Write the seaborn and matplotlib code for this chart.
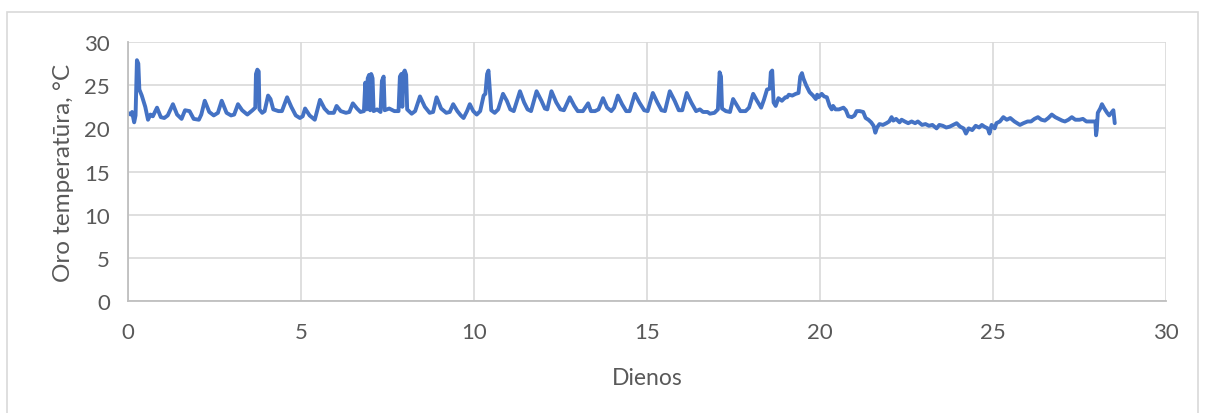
import pandas as pd
import matplotlib.pyplot as plt
import seaborn as sns
from matplotlib.patches import Rectangle

# values (day, temperature)
days = [
    0.00, 0.08, 0.12, 0.18, 0.22, 0.26, 0.30, 0.33, 0.40, 0.50, 0.58, 0.65, 0.72, 0.84, 0.95,
    1.05, 1.15, 1.30, 1.42, 1.55, 1.65, 1.78, 1.90, 2.05, 2.12, 2.22, 2.35, 2.48, 2.60, 2.71,
    2.85, 2.98, 3.07, 3.18, 3.30, 3.45, 3.60, 3.68, 3.70, 3.74, 3.78, 3.80, 3.88, 3.95, 4.05,
    4.12, 4.20, 4.35, 4.45, 4.60, 4.72, 4.85,
    4.97, 5.05, 5.12, 5.25, 5.40, 5.55, 5.68, 5.80, 5.95, 6.03, 6.15, 6.30, 6.40, 6.50, 6.62,
    6.72, 6.82, 6.86, 6.90, 6.93, 6.97, 7.00, 7.03, 7.07, 7.10, 7.20, 7.30, 7.34, 7.39, 7.42,
    7.55, 7.70, 7.82, 7.86, 7.90, 7.93, 7.96, 8.00, 8.04, 8.07, 8.20, 8.30, 8.44, 8.58, 8.72,
    8.82, 8.92, 9.05, 9.20, 9.30, 9.40, 9.52,
    9.62, 9.70, 9.80, 9.88, 9.98, 10.08, 10.18, 10.28, 10.33, 10.38, 10.42, 10.45, 10.50, 10.60,
    10.70, 10.84, 10.95, 11.05, 11.15, 11.33, 11.45, 11.55, 11.65, 11.81, 11.95, 12.05, 12.12,
    12.24, 12.38, 12.50, 12.60, 12.77, 12.90, 13.00, 13.15, 13.30, 13.38, 13.50, 13.60, 13.73,
    13.85, 13.97, 14.05, 14.16, 14.28, 14.40,
    14.50, 14.65, 14.78, 14.92, 15.02, 15.17, 15.30, 15.42, 15.52, 15.66, 15.80, 15.92, 16.02,
    16.15, 16.28, 16.42, 16.53, 16.62, 16.75, 16.82, 16.95, 17.05, 17.10, 17.14, 17.17, 17.28,
    17.40, 17.49, 17.58, 17.70, 17.85, 17.95, 18.07, 18.18, 18.30, 18.38, 18.47, 18.55, 18.58,
    18.62, 18.66, 18.72, 18.80, 18.90, 19.00,
    19.05, 19.10, 19.20, 19.30, 19.38, 19.43, 19.48, 19.52, 19.60, 19.70, 19.80, 19.88, 19.92,
    19.96, 20.05, 20.12, 20.20, 20.28, 20.34, 20.38, 20.45, 20.55, 20.68, 20.75, 20.82, 20.92,
    21.00, 21.06, 21.15, 21.25, 21.32, 21.40, 21.48, 21.55, 21.60, 21.65, 21.72, 21.82, 21.92,
    22.00, 22.07, 22.12, 22.20, 22.30, 22.36, 22.45, 22.55, 22.65, 22.75, 22.83, 22.95, 23.05,
    23.15, 23.25, 23.37, 23.45, 23.55, 23.65, 23.75,
    23.85, 23.95, 24.05, 24.15, 24.22, 24.30, 24.40, 24.50, 24.60, 24.68, 24.75, 24.85, 24.90,
    24.96, 25.05, 25.10, 25.20, 25.30, 25.40, 25.50, 25.62, 25.70, 25.78, 25.88, 26.00, 26.10,
    26.20, 26.30, 26.40, 26.50, 26.60, 26.70, 26.80, 26.90, 27.00, 27.08, 27.18, 27.28, 27.38,
    27.50, 27.60, 27.70, 27.80, 27.90, 27.96, 27.98, 28.00, 28.03, 28.10, 28.15, 28.22, 28.30,
    28.36, 28.42, 28.48, 28.52,
]
temps = [
    21.8, 21.6, 21.9, 20.7, 21.5, 27.9, 27.5, 24.5, 23.8, 22.5, 21.0, 21.6, 21.4, 22.4, 21.3,
    21.2, 21.5, 22.8, 21.6, 21.1, 22.1, 22.0, 21.1, 21.0, 21.6, 23.2, 21.9, 21.5, 21.8, 23.2,
    21.8, 21.5, 21.6, 22.8, 22.1, 21.6, 22.1, 22.4, 26.3, 26.8, 26.6, 22.2, 21.8, 22.0, 23.8,
    23.4, 22.2, 22.0, 22.0, 23.6, 22.5, 21.5,
    21.2, 21.4, 22.3, 21.5, 21.0, 23.3, 22.3, 21.8, 21.8, 22.6, 22.0, 21.8, 21.9, 22.9, 22.3,
    21.9, 22.0, 25.3, 22.2, 25.8, 26.2, 22.1, 26.3, 25.8, 22.0, 22.2, 21.9, 25.5, 26.0, 22.1,
    22.3, 22.0, 22.0, 26.0, 26.3, 22.5, 26.4, 26.7, 26.2, 22.2, 21.7, 22.0, 23.7, 22.5, 21.8,
    21.9, 23.6, 22.3, 21.8, 21.9, 22.8, 22.0,
    21.5, 21.2, 22.0, 22.8, 22.0, 21.6, 22.0, 23.8, 24.0, 26.3, 26.7, 25.0, 22.1, 21.8,
    22.2, 24.0, 23.2, 22.2, 22.0, 24.3, 23.0, 22.2, 22.0, 24.3, 23.2, 22.3, 22.2,
    24.3, 23.0, 22.2, 22.1, 23.6, 22.6, 22.0, 22.0, 22.9, 22.0, 22.0, 22.2, 23.5,
    22.4, 22.0, 22.4, 23.8, 22.8, 22.0,
    22.0, 24.0, 23.0, 22.1, 22.0, 24.1, 23.0, 22.1, 22.0, 24.3, 23.2, 22.1, 22.1,
    24.1, 23.0, 22.0, 22.2, 21.9, 21.9, 21.7, 21.8, 22.2, 26.5, 26.0, 22.3, 22.0,
    21.9, 23.4, 22.8, 22.0, 22.0, 22.4, 24.0, 23.2, 22.4, 23.3, 24.5, 24.6, 26.5,
    26.7, 23.0, 22.6, 23.5, 23.2, 23.6,
    23.6, 23.9, 23.8, 24.0, 24.1, 26.0, 26.4, 25.8, 25.0, 24.2, 23.8, 23.4, 23.9,
    23.6, 24.0, 23.7, 23.6, 22.6, 22.2, 22.6, 22.2, 22.2, 22.4, 22.1, 21.4, 21.3,
    21.5, 22.0, 22.0, 21.9, 21.2, 21.0, 20.7, 20.3, 19.5, 20.1, 20.5, 20.4, 20.6,
    20.8, 21.3, 20.9, 21.1, 20.7, 21.0, 20.8, 20.6, 20.8, 20.6, 20.8, 20.4, 20.5,
    20.3, 20.4, 20.0, 20.4, 20.3, 20.1, 20.2,
    20.4, 20.6, 20.2, 20.0, 19.4, 20.0, 19.8, 20.3, 20.1, 20.4, 20.2, 20.0, 19.4,
    20.4, 20.0, 20.6, 20.8, 21.3, 21.0, 21.2, 20.8, 20.6, 20.4, 20.6, 20.8, 20.8,
    21.1, 21.3, 21.0, 20.9, 21.2, 21.6, 21.3, 21.1, 20.9, 20.8, 21.0, 21.3, 21.0,
    21.0, 21.1, 20.8, 20.8, 20.8, 20.8, 19.2, 19.8, 21.8, 22.3, 22.8, 22.3, 21.8,
    21.5, 21.8, 22.1, 20.6,
]
x_ticks = [0, 5, 10, 15, 20, 25, 30]
y_ticks = [0, 5, 10, 15, 20, 25, 30]

df = pd.DataFrame({'Dienos': days, 'Temp': temps})

sns.set_style('white')
plt.rcParams['font.family'] = ['Lato', 'DejaVu Sans']

fig = plt.figure(figsize=(12.07, 4.14), dpi=100)
ax = fig.add_axes([0.106, 0.2705, 0.86, 0.6255])

# chart border
fig.patches.append(Rectangle((7 / 1207, -0.01), 1191 / 1207, 1 - 13 / 414 + 0.01,
                             transform=fig.transFigure, fill=False,
                             edgecolor='#D9D9D9', linewidth=1.2))

sns.lineplot(data=df, x='Dienos', y='Temp', sort=False, estimator=None,
             color='#4472C4', linewidth=2.8, ax=ax)

ax.set_xlim(0, 30)
ax.set_ylim(0, 30)
ax.set_xticks(x_ticks)
ax.set_yticks(y_ticks)
ax.grid(True, color='#D9D9D9', linewidth=1.2)
ax.set_axisbelow(True)

for side in ['top', 'right']:
    ax.spines[side].set_visible(False)
for side in ['left', 'bottom']:
    ax.spines[side].set_color('#BFBFBF')
    ax.spines[side].set_linewidth(1.3)

ax.tick_params(axis='both', which='major', length=7, width=1.2, color='#BFBFBF',
               labelcolor='#595959', labelsize=16, pad=6)
ax.tick_params(axis='x', pad=8)

ax.set_xlabel('Dienos', fontsize=16.5, color='#595959', labelpad=18)
ax.set_ylabel('Oro temperatūra, °C', fontsize=17.5, color='#595959', labelpad=7)

fig.savefig('out.png', dpi=100)
